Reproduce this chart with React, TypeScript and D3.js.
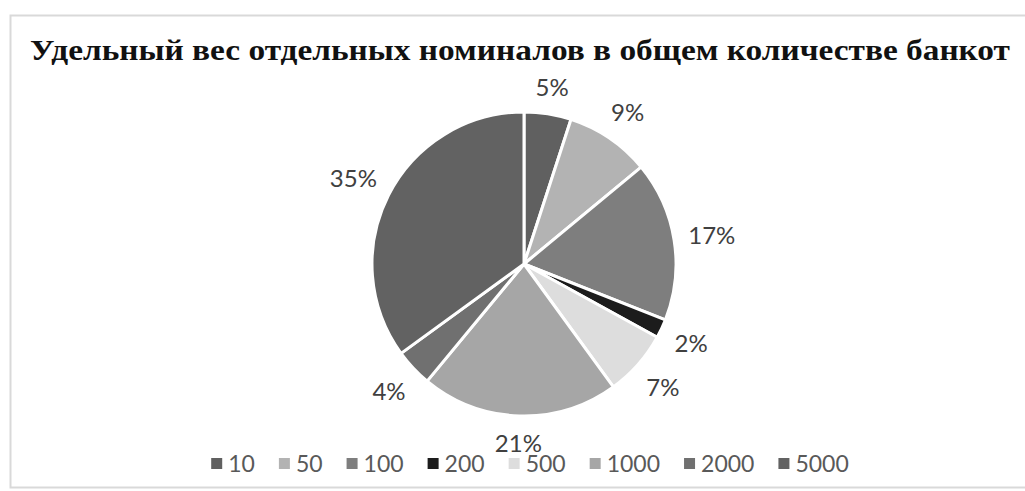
import React, { useEffect, useRef } from "react";
import * as d3 from "d3";

const title = "Удельный вес отдельных номиналов в общем количестве банкот";
const categories = ["10", "50", "100", "200", "500", "1000", "2000", "5000"];
const shares = [5, 9, 17, 2, 7, 21, 4, 35];
const colors = ["#606060", "#b3b3b3", "#7e7e7e", "#1c1c1c", "#dddddd", "#a6a6a6", "#707070", "#626262"];

const App = () => {
  const ref = useRef<SVGSVGElement>(null);

  useEffect(() => {
    const width = 1025;
    const height = 491;
    const cx = 524;
    const cy = 264;
    const r = 152;

    const svg = d3.select(ref.current).attr("width", width).attr("height", height);
    svg.selectAll("*").remove();

    svg.append("rect").attr("width", width).attr("height", height).attr("fill", "#fff");
    // chart area frame
    svg
      .append("rect")
      .attr("x", 10.5)
      .attr("y", 15.5)
      .attr("width", 1030)
      .attr("height", 472)
      .attr("fill", "#fff")
      .attr("stroke", "#d9d9d9")
      .attr("stroke-width", 2);

    svg
      .append("text")
      .attr("x", 30)
      .attr("y", 60)
      .attr("textLength", 980)
      .attr("lengthAdjust", "spacingAndGlyphs")
      .attr("font-family", "'Liberation Serif', 'DejaVu Serif', serif")
      .attr("font-weight", "bold")
      .attr("font-size", 30)
      .attr("fill", "#111")
      .text(title);

    const data = categories.map((c, i) => ({ c, v: shares[i], color: colors[i] }));
    const pie = d3.pie<any>().sort(null).value((d) => d.v);
    const arcs = pie(data);
    const arc = d3.arc<any>().innerRadius(0).outerRadius(r);

    const g = svg.append("g").attr("transform", `translate(${cx},${cy})`);
    g.selectAll("path")
      .data(arcs)
      .enter()
      .append("path")
      .attr("d", arc)
      .attr("fill", (d) => d.data.color)
      .attr("stroke", "#fff")
      .attr("stroke-width", 3)
      .attr("stroke-linejoin", "round");

    const fontSize = 24;
    g.selectAll("text.lbl")
      .data(arcs)
      .enter()
      .append("text")
      .attr("class", "lbl")
      .attr("font-family", "Lato, 'Open Sans', sans-serif")
      .attr("font-size", fontSize)
      .attr("fill", "#404040")
      .attr("text-anchor", "middle")
      .attr("dominant-baseline", "central")
      .attr("transform", (d) => {
        const a = (d.startAngle + d.endAngle) / 2;
        const label = d.data.v + "%";
        const w = label.length * 15;
        const h = 24;
        const dist = r + 14 + (w / 2) * Math.abs(Math.sin(a)) + (h / 2) * Math.abs(Math.cos(a));
        return `translate(${dist * Math.sin(a)},${-dist * Math.cos(a)})`;
      })
      .text((d) => d.data.v + "%");

    // legend
    const legend = svg.append("g");
    const ly = 463;
    const items = legend
      .selectAll("g")
      .data(data)
      .enter()
      .append("g");
    items
      .append("rect")
      .attr("width", 11)
      .attr("height", 11)
      .attr("y", ly - 5)
      .attr("fill", (d) => d.color);
    items
      .append("text")
      .attr("x", 17)
      .attr("y", ly)
      .attr("dominant-baseline", "central")
      .attr("font-family", "Lato, 'Open Sans', sans-serif")
      .attr("font-size", 23)
      .attr("fill", "#595959")
      .text((d) => d.c);

    const widths: number[] = [];
    items.each(function () {
      const t = d3.select(this).select("text").node() as SVGTextElement;
      widths.push(17 + t.getComputedTextLength());
    });
    const gap = 24;
    const total = d3.sum(widths) + gap * (widths.length - 1);
    let x = 530 - total / 2;
    items.attr("transform", (_d, i) => {
      const tx = x;
      x += widths[i] + gap;
      return `translate(${tx},0)`;
    });
  }, []);

  return <svg ref={ref} style={{ display: "block", position: "absolute", left: 0, top: 0 }}></svg>;
};

export default App;
